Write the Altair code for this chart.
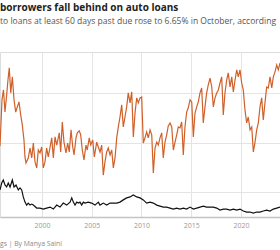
import altair as alt
import pandas as pd

# Subprime share of auto loans 60+ days past due (%)
sub_year = [1995.78, 1995.98, 1996.13, 1996.28, 1996.45, 1996.58, 1996.71, 1996.86, 1997.02, 1997.19,
            1997.36, 1997.52, 1997.69, 1997.86, 1998.02, 1998.19, 1998.29, 1998.39, 1998.62, 1998.80,
            1998.97, 1999.13, 1999.30, 1999.47, 1999.63, 1999.80, 1999.97, 2000.13, 2000.30, 2000.47,
            2000.63, 2000.81, 2000.98, 2001.14, 2001.31, 2001.48, 2001.74, 2001.88, 2002.04, 2002.21,
            2002.41, 2002.58, 2002.74, 2002.92, 2003.09, 2003.22, 2003.42, 2003.55, 2003.75, 2003.89,
            2004.05, 2004.22, 2004.42, 2004.55, 2004.75, 2004.90, 2005.10, 2005.26, 2005.50, 2005.66,
            2005.83, 2006.00, 2006.16, 2006.33, 2006.50, 2006.66, 2006.84, 2007.01, 2007.17, 2007.34,
            2007.51, 2007.67, 2007.84, 2008.01, 2008.17, 2008.34, 2008.51, 2008.67, 2008.85, 2009.02,
            2009.18, 2009.35, 2009.52, 2009.68, 2009.85, 2010.02, 2010.18, 2010.35, 2010.52, 2010.68,
            2010.86, 2011.03, 2011.19, 2011.36, 2011.53, 2011.69, 2011.86, 2012.03, 2012.19, 2012.36,
            2012.53, 2012.69, 2012.87, 2013.04, 2013.20, 2013.37, 2013.54, 2013.70, 2013.87, 2014.04,
            2014.20, 2014.37, 2014.54, 2014.70, 2014.88, 2015.05, 2015.21, 2015.38, 2015.55, 2015.71,
            2015.88, 2016.05, 2016.21, 2016.38, 2016.55, 2016.71, 2016.89, 2017.06, 2017.22, 2017.39,
            2017.56, 2017.72, 2017.89, 2018.06, 2018.22, 2018.39, 2018.56, 2018.72, 2018.90, 2019.07,
            2019.23, 2019.40, 2019.57, 2019.73, 2019.90, 2020.07, 2020.23, 2020.40, 2020.57, 2020.73,
            2020.91, 2021.08, 2021.24, 2021.41, 2021.58, 2021.74, 2021.91, 2022.08, 2022.24, 2022.41,
            2022.58, 2022.74, 2022.92, 2023.09, 2023.25, 2023.42, 2023.59, 2023.75, 2023.92]
sub_pct = [2.86, 4.72, 5.12, 4.23, 4.92, 5.52, 6.01, 5.00, 5.65, 4.72,
           4.23, 4.44, 4.64, 4.11, 3.71, 3.10, 2.42, 2.18, 2.38, 2.78,
           2.38, 2.98, 2.22, 1.98, 2.70, 2.58, 2.82, 1.98, 2.22, 2.78,
           2.42, 2.82, 3.19, 2.38, 3.23, 2.90, 3.39, 2.62, 3.83, 3.02,
           2.58, 2.98, 2.62, 3.51, 2.82, 2.50, 3.19, 3.39, 3.47, 3.31,
           2.70, 2.30, 2.90, 2.70, 3.19, 2.90, 3.10, 2.42, 3.02, 2.82,
           2.62, 2.90, 1.69, 2.22, 2.62, 2.78, 2.50, 2.70, 1.98, 2.38,
           3.19, 3.63, 4.03, 4.52, 3.63, 4.03, 4.44, 5.00, 4.60, 5.04,
           3.23, 4.19, 4.80, 4.60, 4.80, 4.84, 2.98, 3.19, 3.43, 3.19,
           3.51, 3.31, 1.77, 2.78, 3.02, 2.90, 3.19, 3.39, 2.38, 3.02,
           3.31, 3.67, 3.79, 3.63, 2.70, 3.02, 3.31, 3.63, 3.59, 3.83,
           2.50, 3.63, 4.23, 4.40, 4.72, 4.64, 3.23, 4.19, 4.44, 4.64,
           5.00, 5.20, 3.79, 4.44, 5.00, 5.32, 5.60, 5.24, 4.44, 4.80,
           5.00, 5.12, 5.40, 5.65, 4.11, 5.00, 5.52, 5.81, 5.24, 5.65,
           5.04, 5.52, 5.93, 5.65, 5.93, 5.40, 5.12, 4.31, 3.79, 4.03,
           3.51, 3.63, 2.62, 3.02, 3.51, 3.79, 4.44, 4.80, 3.91, 4.60,
           5.24, 5.20, 5.65, 5.20, 5.65, 5.85, 6.13, 5.93, 6.21]

# Prime share (%)
prime_year = [1995.78, 1995.95, 1996.11, 1996.28, 1996.45, 1996.61, 1996.79, 1997.02, 1997.19, 1997.39,
              1997.62, 1997.79, 1997.96, 1998.12, 1998.29, 1998.46, 1998.62, 1998.80, 1998.97, 1999.13,
              1999.47, 1999.80, 2000.13, 2000.47, 2000.81, 2001.14, 2001.48, 2001.81, 2002.14, 2002.48,
              2002.82, 2002.99, 2003.15, 2003.32, 2003.49, 2003.65, 2003.82, 2003.99, 2004.15, 2004.32,
              2004.65, 2004.99, 2005.33, 2005.66, 2005.83, 2006.16, 2006.50, 2006.84, 2007.17, 2007.51,
              2007.84, 2008.17, 2008.51, 2008.85, 2009.18, 2009.52, 2009.85, 2010.18, 2010.52, 2010.86,
              2011.19, 2011.53, 2011.86, 2012.19, 2012.53, 2012.87, 2013.20, 2013.54, 2013.87, 2014.20,
              2014.54, 2014.88, 2015.21, 2015.55, 2015.88, 2016.21, 2016.55, 2016.89, 2017.22, 2017.56,
              2017.89, 2018.22, 2018.56, 2018.90, 2019.23, 2019.57, 2019.90, 2020.23, 2020.57, 2020.91,
              2021.24, 2021.58, 2021.91, 2022.24, 2022.58, 2022.92, 2023.25, 2023.59, 2023.92]
prime_pct = [1.09, 1.37, 1.49, 1.29, 1.21, 1.37, 1.21, 1.49, 1.21, 1.29,
             1.09, 1.17, 1.09, 0.81, 0.60, 0.48, 0.56, 0.48, 0.52, 0.48,
             0.36, 0.36, 0.32, 0.36, 0.40, 0.32, 0.48, 0.40, 0.56, 0.48,
             0.60, 0.77, 0.60, 0.48, 0.60, 0.56, 0.60, 0.48, 0.60, 0.56,
             0.60, 0.56, 0.48, 0.60, 0.48, 0.56, 0.48, 0.56, 0.56, 0.56,
             0.60, 0.69, 0.77, 0.81, 0.89, 0.81, 0.77, 0.69, 0.56, 0.60,
             0.56, 0.48, 0.44, 0.40, 0.40, 0.36, 0.32, 0.36, 0.32, 0.36,
             0.32, 0.40, 0.32, 0.36, 0.40, 0.44, 0.40, 0.40, 0.40, 0.36,
             0.28, 0.32, 0.32, 0.28, 0.32, 0.28, 0.32, 0.24, 0.20, 0.20,
             0.16, 0.20, 0.20, 0.24, 0.28, 0.24, 0.32, 0.36, 0.40]

x_ticks = [2000, 2005, 2010, 2015, 2020]
y_grid = [1, 2, 3, 4, 5, 6]

title_text = "borrowers fall behind on auto loans"
subtitle_text = "to loans at least 60 days past due rose to 6.65% in October, according"
footer_text = "gs | By Manya Saini"

FONT = "Open Sans"

sub_df = pd.DataFrame({"year": sub_year, "pct": sub_pct})
prime_df = pd.DataFrame({"year": prime_year, "pct": prime_pct})

xscale = alt.Scale(domain=[1995.78, 2023.92], nice=False, zero=False)
yscale = alt.Scale(domain=[0, 6.65], nice=False, zero=True)

xaxis = alt.Axis(values=x_ticks, format="d", title=None, labelFont=FONT, labelFontSize=7,
                 labelColor="#9a9a9a", labelPadding=4, ticks=False, domainColor="#c4c4c4",
                 domainWidth=1.5, gridColor="#e4e4e4", gridWidth=1)
yaxis = alt.Axis(values=y_grid, title=None, labels=False, ticks=False, domain=False,
                 gridColor="#e4e4e4", gridWidth=1)

sub_line = alt.Chart(sub_df).mark_line(color="#d0602a", strokeWidth=1.2, clip=True).encode(
    x=alt.X("year:Q", scale=xscale, axis=xaxis),
    y=alt.Y("pct:Q", scale=yscale, axis=yaxis),
)
prime_line = alt.Chart(prime_df).mark_line(color="#111111", strokeWidth=1.2, clip=True).encode(
    x=alt.X("year:Q", scale=xscale),
    y=alt.Y("pct:Q", scale=yscale),
)

def label(text, x, y, size, color, weight="normal"):
    return alt.Chart(pd.DataFrame({"t": [text]})).mark_text(
        align="left", baseline="alphabetic", font=FONT, fontSize=size,
        color=color, fontWeight=weight
    ).encode(text="t:N", x=alt.value(x), y=alt.value(y))

chart = alt.layer(
    sub_line,
    prime_line,
    label(title_text, 0, -41, 10, "#222222", "bold"),
    label(subtitle_text, 0, -27.7, 8.55, "#555555"),
    label(footer_text, 0, 194, 6.8, "#8a8a8a"),
).properties(
    width=280, height=165,
    autosize=alt.AutoSizeParams(type="none"),
    padding={"left": 0, "top": 52, "right": 0, "bottom": 33},
).configure_view(stroke=None).configure(background="white")

chart.save("out.html", embed_options={"renderer": "svg", "actions": False})
